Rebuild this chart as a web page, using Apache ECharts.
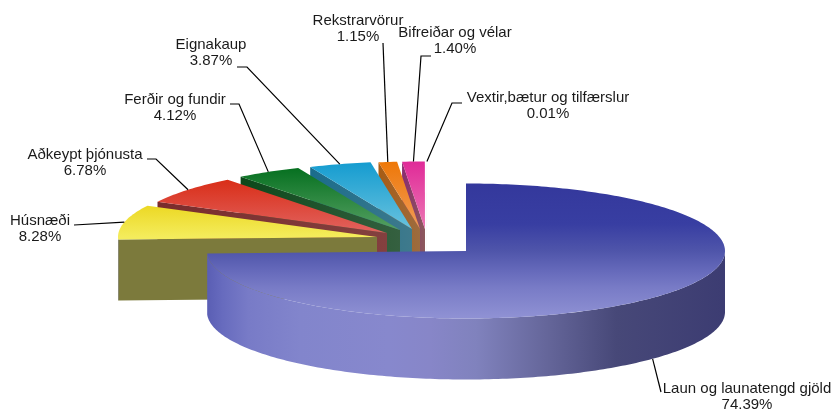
<!DOCTYPE html>
<html>
<head>
<meta charset="utf-8">
<style>
  html, body { margin: 0; padding: 0; background: #fff; }
  #chart { width: 835px; height: 409px; }
</style>
<script src="https://cdn.jsdelivr.net/npm/echarts@6/dist/echarts.min.js"></script>
</head>
<body>
<div id="chart"></div>
<script>
// clockwise from the top of the pie
const categories = ['Laun og launatengd gjöld', 'Húsnæði', 'Aðkeypt þjónusta', 'Ferðir og fundir', 'Eignakaup', 'Rekstrarvörur', 'Bifreiðar og vélar', 'Vextir,bætur og tilfærslur'];
const values = [74.39, 8.28, 6.78, 4.12, 3.87, 1.15, 1.40, 0.01];

// pie shape
const rx = 259, ry = 67.5, depth = 61;
// tip of each wedge, the small ones are pulled out to the upper left
const apex = [[466, 251], [377, 237], [387, 233], [400, 230], [412, 229], [420, 229], [425, 229], [427, 229]];

// top face gradient: rim colour, inner colour
const topColors = [
    [[0, '#34389c'], [0.3, '#383ea2'], [0.5, '#4f55aa'], [0.65, '#666abb'], [0.77, '#787bc6'], [1, '#9092d4']],
    [[0, '#ecd824'], [1, '#f4ec5c']],
    [[0, '#d92e18'], [1, '#e2635f']],
    [[0, '#067020'], [1, '#55a062']],
    [[0, '#159cd0'], [1, '#68c2de']],
    [[0, '#ee7808'], [1, '#f09c58']],
    [[0, '#e02a98'], [1, '#ec78b4']],
    [[0, '#eeeeee'], [1, '#eeeeee']]
];
// cut face colour: outer end, inner end
const wallColors = [null, ['#7c7a3c', '#7c7a3c'], ['#7a2c2c', '#83403f'], ['#0c481a', '#356040'], ['#1a6c8c', '#3f7a8c'], ['#a85c14', '#9c6c40'], ['#8a2c70', '#8c5a5c'], ['#dddddd', '#dddddd']];
const frontWallStops = [
    [0, '#5a5eb4'], [0.03, '#676bbe'], [0.08, '#787bc7'], [0.18, '#8285cc'], [0.35, '#8788cd'], [0.43, '#8786c8'],
    [0.52, '#8082bd'], [0.656, '#65669a'], [0.79, '#474878'], [1, '#3c3c72']
];

// label centre, leader line elbows (the leader then runs on to its slice)
const labelPos = [[747, 388], [40, 220], [85, 154], [175, 99], [211, 44], [358, 20], [455, 32], [548, 97]];
const leaderBends = [
    [[661, 392]],
    [[74, 225]],
    [[147, 159], [156, 159]],
    [[230, 104], [239, 104]],
    [[237, 67], [247, 67]],
    [[383, 43]],
    [[431, 56], [421, 56]],
    [[462, 103], [452, 103]]
];

const total = values.reduce((a, b) => a + b, 0);
const cumulative = [];
values.reduce((sum, v, i) => { cumulative[i] = sum; return sum + v; }, 0);

// angle in degrees, clockwise from north
function rimPoint(center, deg) {
    const a = deg * Math.PI / 180;
    return [center[0] + rx * Math.sin(a), center[1] - ry * Math.cos(a)];
}

function arcPoints(center, from, to) {
    const pts = [];
    const steps = Math.max(2, Math.ceil(to - from));
    for (let i = 0; i <= steps; i++) {
        pts.push(rimPoint(center, from + (to - from) * i / steps));
    }
    return pts;
}

function gradient(x0, y0, x1, y1, stops) {
    return new echarts.graphic.LinearGradient(x0, y0, x1, y1, stops.map(s => ({ offset: s[0], color: s[1] })), true);
}

function renderSlice(params, api) {
    const i = params.dataIndex;
    const value = api.value(0);
    const start = cumulative[i] / total * 360;
    const end = start + value / total * 360;
    const center = apex[i];
    // back slices first, the big one goes on top
    const z2 = i === 0 ? 100 : 50 - i;
    const children = [];

    if (i > 0) {
        // cut face along the start of the wedge
        const p = rimPoint(center, start);
        children.push({
            type: 'polygon',
            z2: z2,
            shape: { points: [center, p, [p[0], p[1] + depth], [center[0], center[1] + depth]] },
            style: { fill: gradient(p[0], 0, center[0], 0, [[0, wallColors[i][0]], [1, wallColors[i][1]]]) }
        });
    }

    // outer wall, only the front half shows
    const wallFrom = Math.max(start, 90), wallTo = Math.min(end, 270);
    if (wallTo > wallFrom) {
        const rim = arcPoints(center, wallFrom, wallTo);
        const lower = rim.map(p => [p[0], p[1] + depth]).reverse();
        children.push({
            type: 'polygon',
            z2: z2,
            shape: { points: rim.concat(lower) },
            style: { fill: gradient(center[0] - rx, 0, center[0] + rx, 0, frontWallStops) }
        });
    }

    // top face
    children.push({
        type: 'polygon',
        z2: z2 + 1,
        shape: { points: [center].concat(arcPoints(center, start, end)) },
        style: { fill: gradient(0, center[1] - ry * Math.max(Math.abs(Math.cos(end * Math.PI / 180)), i === 0 ? 1 : 0), 0, i === 0 ? center[1] + ry : center[1], topColors[i]) }
    });

    // leader line from the middle of the rim
    const mid = (start + end) / 2;
    const anchor = rimPoint(center, mid);
    if (mid > 90 && mid < 270) anchor[1] += depth;
    children.push({
        type: 'polyline',
        z2: 200,
        shape: { points: leaderBends[i].concat([anchor]) },
        style: { stroke: '#000', lineWidth: 1.2, fill: null }
    });

    // label
    children.push({
        type: 'text',
        z2: 200,
        x: labelPos[i][0],
        y: labelPos[i][1] - 7.5,
        style: {
            text: categories[i] + '\n' + value.toFixed(2) + '%',
            fill: '#1a1a1a',
            font: '15px "Liberation Sans", Arial, sans-serif',
            lineHeight: 16.5,
            align: 'center',
            verticalAlign: 'top'
        }
    });

    return { type: 'group', children: children };
}

const chart = echarts.init(document.getElementById('chart'), null, { renderer: 'canvas' });
chart.setOption({
    backgroundColor: '#fff',
    animation: false,
    series: [{
        type: 'custom',
        coordinateSystem: 'none',
        renderItem: renderSlice,
        encode: { value: 0 },
        data: values.map(v => [v]),
        silent: true
    }]
});
</script>
</body>
</html>
